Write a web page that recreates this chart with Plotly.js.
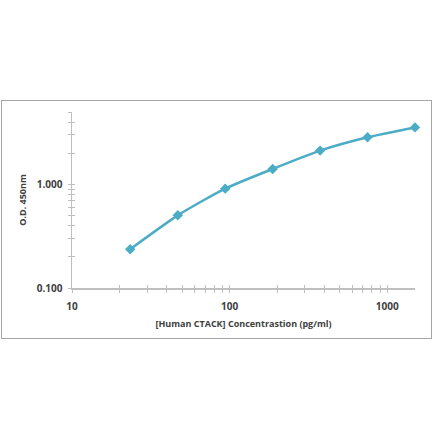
<!DOCTYPE html>
<html>
<head>
<meta charset="utf-8">
<script src="https://cdn.plot.ly/plotly-3.0.1.min.js"></script>
<style>
  html, body { margin: 0; padding: 0; background: #fff; }
  #wrap { position: relative; width: 440px; height: 441px; }
  #chart { width: 440px; height: 441px; }
  #frame {
    position: absolute; left: 1px; top: 100px; width: 429px; height: 237px;
    border: 1px solid #a6a6a6; pointer-events: none;
  }
</style>
</head>
<body>
<div id="wrap">
  <div id="chart"></div>
  <div id="frame"></div>
</div>
<script>
const concentration = [23.4, 46.9, 93.75, 187.5, 375, 750, 1500];
const od450 = [0.237, 0.503, 0.91, 1.41, 2.12, 2.85, 3.55];
const xTickLabels = ['10', '100', '1000'];
const yTickLabels = ['0.100', '1.000'];

const lineColor = '#4bacc6';
const axisColor = '#bfbfbf';
const tickFont = { family: 'Open Sans, sans-serif', size: 10, color: '#404040', weight: 700 };
const titleFont = { family: 'Open Sans, sans-serif', size: 9, color: '#404040', weight: 700 };

const curve = {
  x: concentration,
  y: od450,
  type: 'scatter',
  mode: 'lines+markers',
  line: { color: lineColor, width: 2.5, shape: 'spline', smoothing: 0.6 },
  marker: { symbol: 'diamond', size: 8, color: lineColor },
  cliponaxis: false,
  hoverinfo: 'x+y',
};

// same curve on the overlay axes, invisible, only so the inner ticks are drawn
const ghost = {
  x: concentration,
  y: od450,
  xaxis: 'x2',
  yaxis: 'y2',
  type: 'scatter',
  mode: 'markers',
  marker: { opacity: 0 },
  hoverinfo: 'skip',
};

const xRange = [1, Math.log10(1500)];
const yRange = [-1, Math.log10(5)];

const layout = {
  width: 440,
  height: 441,
  margin: { l: 72, r: 25, t: 112, b: 153 },
  paper_bgcolor: '#fff',
  plot_bgcolor: '#fff',
  showlegend: false,
  xaxis: {
    type: 'log',
    range: xRange,
    tickmode: 'array',
    tickvals: [10, 100, 1000],
    ticktext: xTickLabels,
    ticks: 'outside',
    ticklen: 3,
    tickcolor: axisColor,
    ticklabelstandoff: 5,
    showline: true,
    linecolor: axisColor,
    linewidth: 1.5,
    showgrid: false,
    zeroline: false,
    minor: { dtick: 'D1', ticks: 'outside', ticklen: 3, tickcolor: axisColor, showgrid: false },
    tickfont: tickFont,
    title: { text: '[Human CTACK] Concentrastion (pg/ml)', font: titleFont, standoff: 9 },
  },
  yaxis: {
    type: 'log',
    range: yRange,
    tickmode: 'array',
    tickvals: [0.1, 1],
    ticktext: yTickLabels,
    ticks: 'outside',
    ticklen: 3,
    tickcolor: axisColor,
    ticklabelstandoff: 3,
    showline: true,
    linecolor: axisColor,
    linewidth: 1.5,
    showgrid: false,
    zeroline: false,
    minor: { dtick: 'D1', ticks: 'outside', ticklen: 3, tickcolor: axisColor, showgrid: false },
    tickfont: tickFont,
    title: { text: 'O.D. 450nm', font: titleFont, standoff: 8 },
  },
  xaxis2: {
    type: 'log',
    range: xRange,
    overlaying: 'x',
    anchor: 'y2',
    side: 'bottom',
    tickmode: 'array',
    tickvals: [10, 100, 1000],
    showticklabels: false,
    ticks: 'inside',
    ticklen: 3,
    tickcolor: axisColor,
    showline: false,
    showgrid: false,
    zeroline: false,
    minor: { dtick: 'D1', ticks: 'inside', ticklen: 3, tickcolor: axisColor, showgrid: false },
  },
  yaxis2: {
    type: 'log',
    range: yRange,
    overlaying: 'y',
    anchor: 'x2',
    side: 'left',
    tickmode: 'array',
    tickvals: [0.1, 1],
    showticklabels: false,
    ticks: 'inside',
    ticklen: 3,
    tickcolor: axisColor,
    showline: false,
    showgrid: false,
    zeroline: false,
    minor: { dtick: 'D1', ticks: 'inside', ticklen: 3, tickcolor: axisColor, showgrid: false },
  },
};

const config = { displayModeBar: false, staticPlot: true };

Plotly.newPlot('chart', [ghost, curve], layout, config);
</script>
</body>
</html>
